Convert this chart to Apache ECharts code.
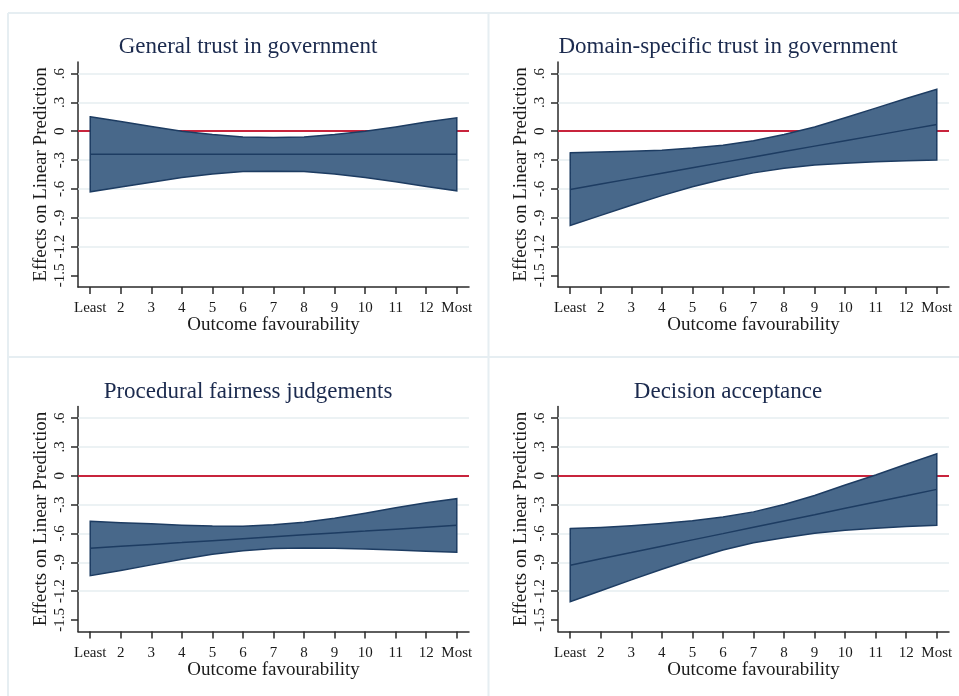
<!DOCTYPE html>
<html>
<head>
<meta charset="utf-8">
<script src="https://cdn.jsdelivr.net/npm/echarts@6/dist/echarts.min.js"></script>
<style>
html,body{margin:0;padding:0;background:#fff;}
#chart{width:959px;height:696px;}
</style>
</head>
<body>
<div id="chart"></div>
<script>
// ---- data ----
var xValues = [1,2,3,4,5,6,7,8,9,10,11,12,13];
var xTickLabels = ['Least','2','3','4','5','6','7','8','9','10','11','12','Most'];
var yTickValues = [0.6,0.3,0,-0.3,-0.6,-0.9,-1.2,-1.5];
var yTickLabels = ['.6','.3','0','-.3','-.6','-.9','-1.2','-1.5'];
var gridValues = [0.6,0.3,-0.3,-0.6,-0.9,-1.2];
var panelTitles = ['General trust in government','Domain-specific trust in government','Procedural fairness judgements','Decision acceptance'];
var xAxisTitle = 'Outcome favourability';
var yAxisTitle = 'Effects on Linear Prediction';

var generalCenter = [-0.24,-0.24,-0.24,-0.24,-0.24,-0.24,-0.24,-0.24,-0.24,-0.24,-0.24,-0.24,-0.24];
var generalUpper  = [0.15,0.10,0.05,0.00,-0.035,-0.06,-0.065,-0.06,-0.035,0.0,0.045,0.095,0.14];
var generalLower  = [-0.63,-0.58,-0.53,-0.48,-0.445,-0.42,-0.415,-0.42,-0.445,-0.48,-0.525,-0.575,-0.62];

var domainCenter = [-0.605,-0.549,-0.493,-0.436,-0.38,-0.324,-0.268,-0.211,-0.155,-0.099,-0.043,0.014,0.07];
var domainUpper  = [-0.225,-0.215,-0.207,-0.197,-0.175,-0.145,-0.10,-0.035,0.045,0.14,0.24,0.34,0.436];
var domainLower  = [-0.98,-0.875,-0.77,-0.67,-0.578,-0.50,-0.433,-0.385,-0.352,-0.332,-0.318,-0.308,-0.30];

var procCenter = [-0.754,-0.734,-0.714,-0.695,-0.675,-0.655,-0.635,-0.615,-0.595,-0.576,-0.556,-0.536,-0.516];
var procUpper  = [-0.474,-0.488,-0.50,-0.514,-0.524,-0.526,-0.51,-0.485,-0.443,-0.39,-0.332,-0.28,-0.239];
var procLower  = [-1.04,-0.985,-0.927,-0.868,-0.817,-0.779,-0.758,-0.751,-0.754,-0.761,-0.772,-0.785,-0.796];

var accCenter = [-0.93,-0.864,-0.799,-0.733,-0.667,-0.602,-0.536,-0.470,-0.405,-0.339,-0.273,-0.208,-0.142];
var accUpper  = [-0.55,-0.538,-0.52,-0.497,-0.468,-0.43,-0.376,-0.30,-0.205,-0.097,0.007,0.12,0.228];
var accLower  = [-1.31,-1.196,-1.083,-0.972,-0.869,-0.772,-0.696,-0.644,-0.599,-0.567,-0.547,-0.529,-0.516];

var panels = [
  {c: generalCenter, u: generalUpper, l: generalLower},
  {c: domainCenter, u: domainUpper, l: domainLower},
  {c: procCenter, u: procUpper, l: procLower},
  {c: accCenter, u: accUpper, l: accLower}
];

// ---- layout / style ----
var FONT = '"Liberation Serif", "DejaVu Serif", serif';
var gridPos = [
  {left: 78, top: 62, width: 391, height: 225},
  {left: 558, top: 62, width: 391, height: 225},
  {left: 78, top: 406.5, width: 391, height: 225},
  {left: 558, top: 406.5, width: 391, height: 225}
];
var titlePos = [[248,47],[728,47],[248,392],[728,392]];
var bandFill = '#48688a';
var bandStroke = '#1d3c62';
var lineColor = '#1d3c62';
var redColor = '#c8243c';
var gridColor = '#e6eef1';
var axisColor = '#2a2a2a';

var grids = [], xAxes = [], yAxes = [], series = [], graphics = [];

panels.forEach(function (p, i) {
  grids.push(Object.assign({containLabel: false}, gridPos[i]));
  xAxes.push({
    type: 'value', gridIndex: i, min: 0.6, max: 13.4,
    name: xAxisTitle, nameLocation: 'middle', nameGap: 29, nameMoveOverlap: false,
    nameTextStyle: {fontFamily: FONT, fontSize: 19, color: '#1a1a1a'},
    axisLine: {show: true, onZero: false, lineStyle: {color: axisColor, width: 1.5}},
    axisTick: {show: true, length: 7, customValues: xValues, lineStyle: {color: axisColor, width: 1.5}},
    axisLabel: {show: true, customValues: xValues, margin: 14, fontFamily: FONT, fontSize: 15, color: '#1a1a1a',
      formatter: function (v) { return xTickLabels[Math.round(v) - 1]; }},
    splitLine: {show: false}
  });
  yAxes.push({
    type: 'value', gridIndex: i, min: -1.62, max: 0.72,
    name: yAxisTitle, nameLocation: 'middle', nameGap: 27, nameMoveOverlap: false,
    nameTextStyle: {fontFamily: FONT, fontSize: 19, color: '#1a1a1a'},
    axisLine: {show: true, onZero: false, lineStyle: {color: axisColor, width: 1.5}},
    axisTick: {show: true, length: 7, customValues: yTickValues, lineStyle: {color: axisColor, width: 1.5}},
    axisLabel: {show: true, customValues: yTickValues, rotate: 90, margin: 10, fontFamily: FONT, fontSize: 15, color: '#1a1a1a',
      formatter: function (v) {
        for (var k = 0; k < yTickValues.length; k++) { if (Math.abs(yTickValues[k] - v) < 1e-6) return yTickLabels[k]; }
        return '';
      }},
    splitLine: {show: false}
  });

  // confidence band
  series.push({
    type: 'custom', xAxisIndex: i, yAxisIndex: i, z: 3, silent: true,
    data: [[xValues[0], p.c[0]]],
    renderItem: (function (pp) {
      return function (params, api) {
        var pts = [];
        for (var k = 0; k < xValues.length; k++) pts.push(api.coord([xValues[k], pp.u[k]]));
        for (var k2 = xValues.length - 1; k2 >= 0; k2--) pts.push(api.coord([xValues[k2], pp.l[k2]]));
        return {type: 'polygon', shape: {points: pts},
          style: {fill: bandFill, stroke: bandStroke, lineWidth: 1.5, lineJoin: 'miter'}};
      };
    })(p),
    markLine: {
      silent: true, symbol: 'none', z: 1, animation: false,
      label: {show: false},
      data: gridValues.map(function (v) { return {yAxis: v, lineStyle: {color: gridColor, width: 1.5, type: 'solid'}}; })
        .concat([{yAxis: 0, lineStyle: {color: redColor, width: 2, type: 'solid'}}])
    }
  });
  // center line
  series.push({
    type: 'line', xAxisIndex: i, yAxisIndex: i, z: 4, silent: true,
    symbol: 'none', lineStyle: {color: lineColor, width: 1.5},
    data: xValues.map(function (x, k) { return [x, p.c[k]]; })
  });

  graphics.push({
    type: 'text', x: titlePos[i][0], y: titlePos[i][1], silent: true,
    style: {text: panelTitles[i], font: '23px ' + FONT, fill: '#1b2a4e', align: 'center', verticalAlign: 'middle'}
  });
});

// panel frames
var frameStyle = {stroke: '#e6eef2', lineWidth: 2};
[[8,13,959,13],[8,357,959,357],[8,13,8,696],[488.5,13,488.5,696]].forEach(function (s) {
  graphics.push({type: 'line', silent: true, z: -1, shape: {x1: s[0], y1: s[1], x2: s[2], y2: s[3]}, style: frameStyle});
});

var chart = echarts.init(document.getElementById('chart'), null, {renderer: 'canvas'});
chart.setOption({
  animation: false,
  backgroundColor: '#ffffff',
  grid: grids,
  xAxis: xAxes,
  yAxis: yAxes,
  series: series,
  graphic: graphics
});
</script>
</body>
</html>
